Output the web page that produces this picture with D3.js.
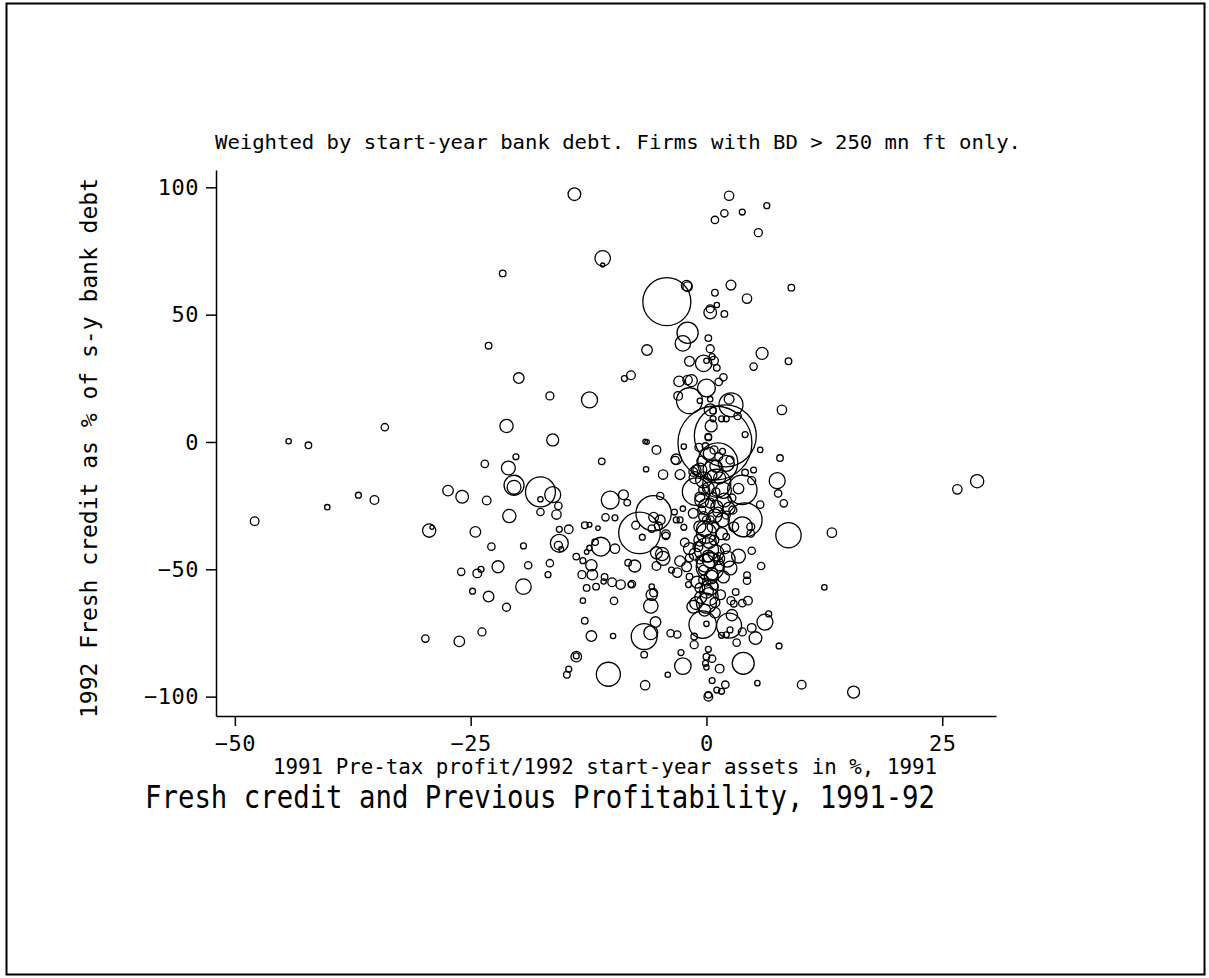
<!DOCTYPE html>
<html>
<head>
  <meta charset="utf-8">
  <script src="https://d3js.org/d3.v7.min.js"></script>
  <style>
    body { margin: 0; background: #fff; }
    text { font-family: "Liberation Sans Narrow", "DejaVu Sans Mono", "Liberation Mono", monospace; fill: #000; }
    .axis path, .axis line { stroke: #000; stroke-width: 1.5; }
    .axis text { font-size: 22px; letter-spacing: 0.5px; }
    .bubble { fill: none; stroke: #000; stroke-width: 1.3; }
  </style>
</head>
<body>
  <script>

    // Firm-level data
    // x: 1991 pre-tax profit / 1992 start-year assets (%)
    var profit = [
      -14.0, -11.0, -11.0, -21.6, -23.1, -19.9, -16.6, -12.4, -21.2, -16.3,
      -34.1, -44.3, -42.2, -47.9, -40.2, -36.9, -35.2, -29.4, -29.1, -27.4,
      -25.9, -23.5, -20.2, -21.0, -20.4, -20.4, -23.3, -17.6, -17.6, -16.3,
      -15.7, -17.6, -15.9, -20.9, -24.5, -22.8, -19.4, -15.6, -15.7, -15.4,
      -15.6, -14.6, -12.9, -12.4, -11.5, -26.0, -24.3, -23.9, -22.1, -18.9,
      -16.6, -16.8, -24.8, -23.1, -19.4, -21.2, -29.8, -26.2, -23.8, -13.8,
      -13.1, -12.2, -13.2, -12.1, -12.7, -11.7, -13.1, -12.9, -12.2, -13.8,
      -13.8, -14.6, -14.8, -10.4, -9.9, -9.8, -10.8, -10.0, -10.9, -11.1,
      -10.2, -10.7, -9.7, -11.2, -9.7, -11.8, -12.4, -12.7, 2.4, 1.9,
      0.9, 3.8, 6.4, 5.5, -4.2, -2.1, -2.0, 0.9, 2.6, 4.3,
      9.0, 0.4, 0.4, 1.1, 1.9, -2.0, -2.5, -6.3, 0.2, 0.4,
      -1.8, -0.3, 0.8, 0.6, 0.0, 1.1, 5.9, 5.0, 8.7, -8.0,
      -8.7, -2.9, -1.6, -2.0, 0.0, 1.3, 1.8, -1.8, -3.0, -0.7,
      0.4, 2.6, 2.4, 8.0, 0.4, 0.7, 3.3, 1.6, 2.1, 0.7,
      2.0, 0.9, 1.2, 0.5, 0.2, 4.1, -6.5, -6.3, -5.3, -6.4,
      -4.6, -3.2, -3.3, -2.4, -2.8, -8.8, -8.4, -5.6, -7.1, -4.9,
      -5.6, -4.9, -5.1, -5.8, -4.3, -4.3, -7.5, -6.8, -3.4, -3.2,
      -2.8, -2.5, -2.4, -9.1, -7.9, -8.0, -8.3, -7.6, -5.3, -5.3,
      -4.6, -4.7, -3.7, -3.1, -2.8, -2.3, -1.8, -1.8, -2.1, -1.8,
      -1.9, -6.5, -6.6, -6.6, -5.9, -5.4, -5.9, -5.8, -5.6, -5.8,
      -3.8, -3.1, -2.7, -2.5, -4.1, -1.3, -1.3, 0.2, 0.0, 0.6,
      -0.1, 0.0, 1.4, 0.6, 1.1, 1.6, 2.0, 0.2, 0.2, 3.9,
      5.4, 10.1, 15.6, 12.5, 13.3, 8.7, 7.5, 7.6, 8.2, 7.8,
      5.7, 26.6, 28.7, 6.6, 6.2, 7.7, 5.2, 4.8, 3.8, 3.2,
      2.5, 2.1, 1.6, 2.4, -0.4, 0.9, 2.7, 3.8, 4.4, 3.1,
      2.6, 2.9, 0.3, -1.1, 0.0, 4.8, 5.8, 4.3, 4.3, 3.4,
      2.5, 2.0, 0.4, 0.4, -0.1, -0.3, 0.0, 4.1, 3.8, 4.7,
      4.7, 2.9, 5.7, 4.8, 5.0, 4.1, 3.4, 3.8, -1.1, 1.1,
      0.7, -1.4, 0.0, 1.1, 1.7, -0.7, 0.0, 0.7, 2.1, -0.9,
      0.0, 1.3, 2.1, 2.5, 0.2, -0.1, 0.8, 1.7, -0.8, 1.3,
      -1.1, -0.3, 0.7, -0.3, 0.4, 2.8, 2.7, -0.7, 0.6, -0.3,
      1.4, 0.2, 1.0, -0.7, 1.9, 0.4, -0.5, 1.2, 0.0, 2.1,
      -0.7, 0.8, 0.2, -0.7, 1.0, -0.3, 0.6, 1.4, 0.0, -0.7,
      0.8, -1.4, 0.0, -1.2, 1.8, -0.5, 2.4, -1.4, 0.9, -0.2,
      1.6, 0.3, -1.2, 2.2, 0.5, -1.0, 1.8, 0.4, 1.5, -0.6,
      0.9, -0.2, 0.3, -0.5, 1.0
    ];

    // y: 1992 fresh credit as % of start-year bank debt
    var credit = [
      97.3, 72.1, 69.5, 66.2, 37.8, 25.1, 18.1, 16.5, 6.3, 0.8,
      5.8, 0.3, -1.3, -31.1, -25.6, -20.9, -22.8, -34.8, -33.5, -19.1,
      -21.5, -8.6, -5.8, -10.2, -17.0, -17.8, -23.0, -19.6, -22.5, -20.7,
      -25.1, -27.5, -28.5, -29.1, -35.3, -41.1, -40.8, -39.8, -40.6, -42.1,
      -34.3, -34.3, -32.7, -32.5, -33.8, -51.0, -51.6, -50.0, -49.0, -48.4,
      -47.6, -52.1, -58.6, -60.7, -56.8, -64.9, -77.2, -78.3, -74.6, -45.0,
      -46.6, -48.4, -52.1, -52.1, -57.3, -56.8, -62.3, -70.2, -76.2, -84.3,
      -84.0, -89.2, -91.4, -91.2, -76.2, -62.4, -53.0, -55.1, -54.8, -7.6,
      -22.8, -29.6, -29.8, -41.1, -41.9, -39.3, -41.6, -43.2, 96.7, 89.8,
      87.2, 90.3, 92.8, 82.2, 55.1, 61.4, 61.0, 58.6, 61.6, 56.3,
      60.6, 50.8, 52.3, 53.8, 50.3, 42.9, 38.7, 36.1, 40.8, 36.6,
      31.7, 30.9, 31.9, 33.5, 31.9, 29.1, 34.8, 29.6, 31.7, 26.2,
      24.9, 23.8, 24.1, 24.3, 21.2, 23.6, 25.4, 16.2, 18.1, 16.2,
      16.8, 14.6, 16.8, 12.6, 12.6, 12.3, 10.2, 9.1, 9.1, 9.1,
      2.4, -0.4, -8.2, 6.3, 2.1, 2.9, 0.2, 0.0, -3.1, -10.7,
      -12.8, -6.8, -7.2, -1.8, -12.8, -20.7, -23.8, -28.0, -35.7, -21.2,
      -29.6, -30.6, -33.0, -34.0, -36.9, -36.2, -32.7, -37.4, -27.5, -30.6,
      -30.6, -26.2, -33.5, -56.0, -55.8, -56.0, -47.4, -48.7, -48.7, -43.5,
      -45.7, -44.0, -50.3, -51.3, -46.8, -39.5, -41.9, -45.5, -49.0, -52.9,
      -56.0, -95.5, -83.5, -76.4, -74.9, -70.7, -64.4, -60.0, -59.2, -56.8,
      -75.1, -75.6, -82.7, -88.0, -91.4, -79.6, -76.4, -81.4, -84.3, -85.1,
      -86.9, -88.5, -89.0, -93.7, -97.4, -97.9, -95.3, -100.0, -99.3, -86.9,
      -94.7, -95.3, -98.2, -57.1, -35.6, -36.6, -15.2, -20.2, -24.1, -6.3,
      -3.1, -18.6, -15.4, -67.5, -70.7, -80.1, -77.0, -73.0, -74.6, -78.8,
      -73.8, -75.7, -75.9, -72.1, -71.7, -67.0, -68.0, -63.3, -62.3, -58.9,
      -62.3, -63.5, -60.7, -63.3, -63.3, -42.7, -48.7, -52.3, -54.5, -44.8,
      -49.5, -41.9, -49.0, -46.3, -47.6, -54.2, -58.6, -30.6, -33.3, -33.3,
      -35.9, -33.3, -24.6, -15.2, -11.0, -12.0, -18.3, -18.8, -19.5, -16.2,
      -11.0, -11.8, -25.4, -25.4, -30.6, -33.3, -35.8, -33.3, -37.2, -41.1,
      -42.4, -45.8, -8.4, -7.1, 1.8, -1.6, -3.1, -3.7, -2.1, -5.8,
      -11.0, -18.8, -21.5, -29.3, -30.6, -26.7, -22.0, -11.0, -13.0, -14.9,
      -14.1, -18.1, -19.6, -21.6, -22.8, -24.0, -26.7, -27.5, -30.6, -28.7,
      -38.5, -38.5, -44.8, -46.3, -43.6, -50.3, -51.8, -48.7, -55.0, -57.3,
      -56.5, -64.7, -71.4, -14.0, -19.0, -23.0, -26.0, -28.0, -29.0, -34.0,
      -36.0, -39.0, -44.0, -46.0, -53.0, -55.0, -53.0, -57.0, -60.0, -61.0,
      -63.0, -66.0, -4.5, -7.5, -9.5
    ];

    // weight: start-year bank debt (rough units)
    var debt = [
      10, 15, 1, 2.7, 2.7, 7, 4, 16, 11, 9,
      3.4, 1.8, 2.7, 4.7, 1.8, 2.2, 4.7, 11, 1, 7,
      10, 3.4, 2.2, 12, 25, 12, 4.7, 56, 1.8, 16,
      3.4, 3.4, 5.5, 11, 7, 3.4, 2.2, 20, 4, 1.5,
      2.2, 4.7, 2.7, 1.5, 1.3, 3.4, 4.7, 2.2, 9, 3.4,
      3.4, 2.2, 2.2, 7, 15, 4, 3.4, 7, 4, 2.7,
      2.2, 8, 4, 7, 2.7, 2.7, 1.8, 2.7, 7, 7,
      2.2, 2.2, 2.7, 36, 1.8, 3.4, 2.7, 4.7, 1.8, 2.7,
      20, 3.4, 2.2, 22, 5.5, 2.7, 1.8, 1.3, 5.5, 3.4,
      3.4, 2.2, 2.2, 4, 144, 7, 5.5, 2.7, 6, 5.5,
      2.7, 10, 4, 1.8, 2.7, 28, 15, 7, 2.7, 4,
      6, 17, 4.7, 2.2, 1.8, 2.7, 9, 3.4, 2.7, 4.7,
      2.2, 7, 9, 5.5, 20, 3.4, 3.4, 42, 4.7, 1.8,
      1.8, 36, 6, 5.5, 9, 2.7, 3.4, 2.2, 2.2, 2.2,
      240, 342, 100, 9, 2.7, 2.2, 1.3, 1.3, 4.7, 1.8,
      5.5, 7, 4, 1.8, 6, 6, 2.7, 78, 108, 3.4,
      6, 6, 4, 3.4, 3.4, 4.7, 4, 2.2, 2.2, 2.2,
      2.2, 1.8, 2.2, 5.5, 3.4, 2.2, 2.7, 9, 4.7, 9,
      12, 11, 2.2, 5.5, 7, 4.7, 9, 4, 6, 2.7,
      2.2, 5.5, 2.7, 42, 12, 7, 13, 8, 4, 1.8,
      3.4, 3.4, 2.2, 17, 1.8, 4, 2.7, 2.2, 2.7, 3.4,
      2.2, 1.8, 4.7, 2.2, 2.2, 2.2, 3.4, 4.7, 2.7, 30,
      1.8, 4.7, 9, 1.8, 5.5, 40, 16, 3.4, 3.4, 2.7,
      1.8, 5.5, 11, 2.2, 16, 2.2, 10, 4.7, 4, 3.4,
      2.2, 2.2, 2.2, 39, 47, 7, 8, 3.4, 4.7, 2.7,
      4, 2.7, 20, 10, 25, 3.4, 3.4, 2.7, 3.4, 12,
      12, 6, 49, 16, 20, 6, 12, 72, 25, 4,
      3.4, 6, 3.4, 4, 2.2, 2.7, 7, 54, 47, 49,
      25, 4.7, 16, 9, 12, 9, 25, 9, 2.7, 6,
      36, 9, 16, 4, 2.7, 2.7, 4, 2.2, 4, 4,
      6, 6, 4, 6, 4, 4, 4, 12, 6, 16,
      9, 9, 4, 6, 12, 6, 4, 6, 4, 4,
      9, 6, 9, 4, 16, 6, 9, 6, 4, 6,
      4, 10, 1.8, 9, 16, 12, 9, 6, 12, 16,
      9, 12, 9, 16, 12, 9, 9, 16, 6, 9,
      6, 9, 9, 6, 9
    ];

    var xTicks = [-50, -25, 0, 25];
    var yTicks = [-100, -50, 0, 50, 100];

    var subtitle = "Weighted by start-year bank debt. Firms with BD > 250 mn ft only.";
    var xTitle = "1991 Pre-tax profit/1992 start-year assets in %, 1991";
    var yTitle = "1992 Fresh credit as % of s-y bank debt";
    var mainTitle = "Fresh credit and Previous Profitability, 1991-92";

    var width = 1209, height = 978;

    var svg = d3.select("body").append("svg")
        .attr("width", width)
        .attr("height", height);

    // outer frame
    svg.append("rect")
        .attr("x", 6.5).attr("y", 3.5)
        .attr("width", 1198).attr("height", 971)
        .attr("fill", "none")
        .attr("stroke", "#000")
        .attr("stroke-width", 2);

    var x = d3.scaleLinear()
        .domain([-52, 30.7])
        .range([216, 996]);

    var y = d3.scaleLinear()
        .domain([-107.6, 106.8])
        .range([716, 170]);

    // bubble area proportional to bank debt
    var r = d3.scaleSqrt()
        .domain([0, 324])
        .range([0, 36]);

    var firms = d3.range(profit.length).map(function(i) {
      return {x: profit[i], y: credit[i], w: debt[i]};
    });

    svg.append("g").selectAll("circle")
        .data(firms)
      .enter().append("circle")
        .attr("class", "bubble")
        .attr("cx", function(d) { return x(d.x); })
        .attr("cy", function(d) { return y(d.y); })
        .attr("r", function(d) { return r(d.w); });

    // axes
    svg.append("g")
        .attr("class", "axis")
        .attr("transform", "translate(216,0)")
        .call(d3.axisLeft(y).tickValues(yTicks).tickSize(10).tickSizeOuter(0).tickPadding(7));

    svg.append("g")
        .attr("class", "axis")
        .attr("transform", "translate(0,716)")
        .call(d3.axisBottom(x).tickValues(xTicks).tickSize(10).tickSizeOuter(0).tickPadding(9));

    svg.selectAll(".axis").attr("font-family", null).attr("font-size", null);

    // texts
    svg.append("text")
        .attr("x", 215).attr("y", 149)
        .attr("font-size", 20)
        .attr("textLength", 806)
        .attr("lengthAdjust", "spacingAndGlyphs")
        .text(subtitle);

    svg.append("text")
        .attr("x", 273).attr("y", 774)
        .attr("font-size", 21)
        .attr("textLength", 664)
        .attr("lengthAdjust", "spacingAndGlyphs")
        .text(xTitle);

    svg.append("text")
        .attr("x", 145).attr("y", 808)
        .attr("font-size", 32)
        .attr("textLength", 790)
        .attr("lengthAdjust", "spacingAndGlyphs")
        .text(mainTitle);

    svg.append("text")
        .attr("transform", "translate(97,718) rotate(-90)")
        .attr("font-size", 23)
        .attr("textLength", 540)
        .attr("lengthAdjust", "spacingAndGlyphs")
        .text(yTitle);

  </script>
</body>
</html>
